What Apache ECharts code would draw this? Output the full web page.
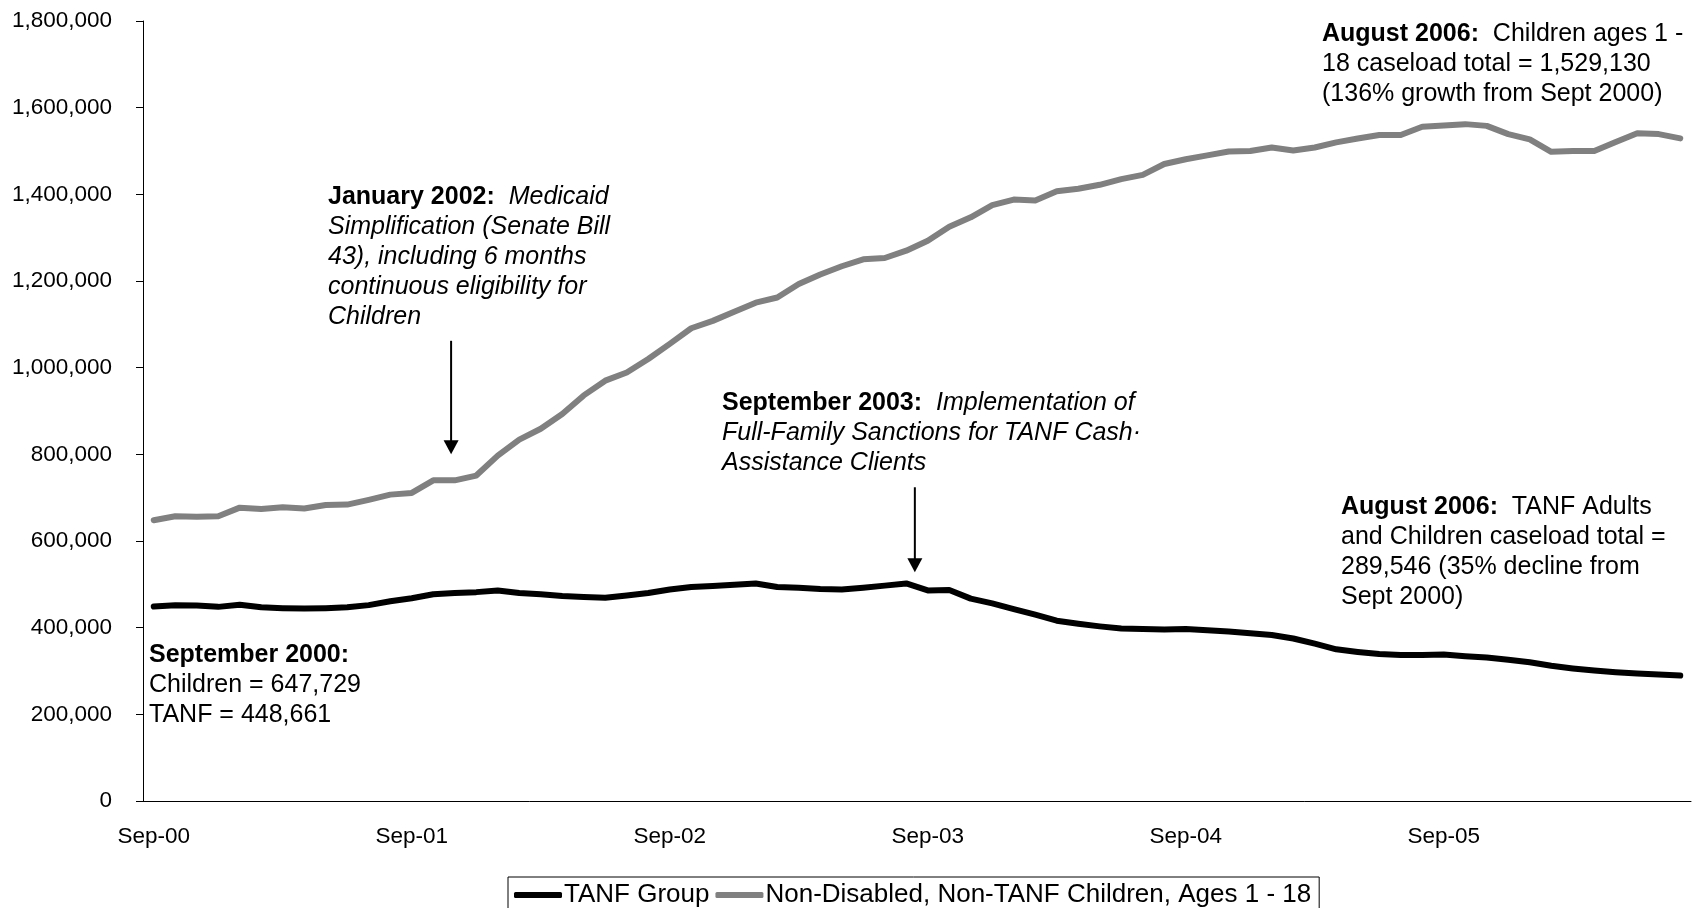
<!DOCTYPE html>
<html>
<head>
<meta charset="utf-8">
<script src="https://cdn.jsdelivr.net/npm/echarts@6/dist/echarts.min.js"></script>
<style>
html,body{margin:0;padding:0;background:#fff;}
#chart{width:1696px;height:908px;}
</style>
</head>
<body>
<div id="chart"></div>
<script>
const FONT = '"Liberation Sans", Arial, Helvetica, sans-serif';

const categories = [
  "Sep-00","Oct-00","Nov-00","Dec-00","Jan-01","Feb-01","Mar-01","Apr-01","May-01","Jun-01","Jul-01","Aug-01",
  "Sep-01","Oct-01","Nov-01","Dec-01","Jan-02","Feb-02","Mar-02","Apr-02","May-02","Jun-02","Jul-02","Aug-02",
  "Sep-02","Oct-02","Nov-02","Dec-02","Jan-03","Feb-03","Mar-03","Apr-03","May-03","Jun-03","Jul-03","Aug-03",
  "Sep-03","Oct-03","Nov-03","Dec-03","Jan-04","Feb-04","Mar-04","Apr-04","May-04","Jun-04","Jul-04","Aug-04",
  "Sep-04","Oct-04","Nov-04","Dec-04","Jan-05","Feb-05","Mar-05","Apr-05","May-05","Jun-05","Jul-05","Aug-05",
  "Sep-05","Oct-05","Nov-05","Dec-05","Jan-06","Feb-06","Mar-06","Apr-06","May-06","Jun-06","Jul-06","Aug-06"
];

const tanfGroup = [
  448661,452000,451000,448000,453000,447000,445000,444000,445000,447000,452000,461000,
  468000,477000,480000,482000,486000,480000,477000,473000,471000,469000,474000,480000,
  488000,494000,496000,499000,502000,494000,492000,489000,488000,492000,497000,502000,
  486000,487000,467000,456000,443000,430000,416000,409000,403000,398000,397000,396000,
  397000,394000,391000,387000,383000,375000,363000,350000,344000,339000,337000,337000,
  338000,334000,331000,326000,320000,312000,306000,301000,297000,294000,292000,289546
];

const nonTanfChildren = [
  647729,657000,656000,657000,677000,674000,678000,675000,683000,684000,695000,707000,
  711000,740000,740000,751000,797000,834000,859000,893000,936000,970000,989000,1020000,
  1055000,1091000,1108000,1129000,1150000,1162000,1193000,1215000,1234000,1250000,1253000,1270000,
  1293000,1325000,1347000,1375000,1388000,1386000,1407000,1413000,1422000,1435000,1445000,1470000,
  1481000,1490000,1499000,1500000,1508000,1501000,1508000,1520000,1529000,1537000,1537000,1556000,
  1559000,1562000,1558000,1539000,1527000,1498000,1500000,1500000,1521000,1541000,1539000,1529130
];

const seriesNames = ["TANF Group", "Non-Disabled, Non-TANF Children, Ages 1 - 18"];
const yTicks = { min: 0, max: 1800000, step: 200000 };

const annotations = [
  { lines: ["{b|January 2002:}  {i|Medicaid}", "{i|Simplification (Senate Bill}", "{i|43), including 6 months}", "{i|continuous eligibility for}", "{i|Children}"], x: 328, y: 182 },
  { lines: ["{b|September 2003:}  {i|Implementation of}", "{i|Full-Family Sanctions for TANF Cash·}", "{i|Assistance Clients}"], x: 722, y: 388 },
  { lines: ["{b|August 2006:}  {n|Children ages 1 -}", "{n|18 caseload total = 1,529,130}", "{n|(136% growth from Sept 2000)}"], x: 1322, y: 19 },
  { lines: ["{b|August 2006:}  {n|TANF Adults}", "{n|and Children caseload total =}", "{n|289,546 (35% decline from}", "{n|Sept 2000)}"], x: 1341, y: 492 },
  { lines: ["{b|September 2000:}", "{n|Children = 647,729}", "{n|TANF = 448,661}"], x: 149, y: 640 }
];
const arrows = [
  [13.83, 1062000, 800000],
  [35.4, 724000, 528000]
];

const chart = echarts.init(document.getElementById('chart'), null, { renderer: 'canvas' });

const ANN_SIZE = 25;
const richStyles = {
  b: { fontFamily: FONT, fontSize: ANN_SIZE, fontWeight: 'bold', fill: '#000', lineHeight: 30 },
  i: { fontFamily: FONT, fontSize: ANN_SIZE, fontStyle: 'italic', fill: '#000', lineHeight: 30 },
  n: { fontFamily: FONT, fontSize: ANN_SIZE, fill: '#000', lineHeight: 30 }
};

const option = {
  animation: false,
  backgroundColor: '#ffffff',
  textStyle: { fontFamily: FONT },
  grid: { left: 143, right: 5, top: 21, bottom: 107, containLabel: false },
  legend: {
    data: seriesNames,
    left: 508,
    top: 877,
    orient: 'horizontal',
    icon: 'roundRect',
    itemWidth: 48,
    itemHeight: 6,
    itemGap: 6,
    padding: [5, 8, 5, 6],
    borderColor: '#000',
    borderWidth: 1,
    borderRadius: 0,
    textStyle: { fontFamily: FONT, fontSize: 26, color: '#000', padding: [0, 0, 0, -3] }
  },
  xAxis: {
    type: 'category',
    data: categories,
    boundaryGap: true,
    axisLine: { show: true, lineStyle: { color: '#000', width: 1 } },
    axisTick: { show: false },
    splitLine: { show: false },
    axisLabel: { interval: 11, color: '#000', fontSize: 22.5, margin: 24, fontFamily: FONT }
  },
  yAxis: {
    type: 'value',
    min: yTicks.min,
    max: yTicks.max,
    interval: yTicks.step,
    axisLine: { show: true, lineStyle: { color: '#000', width: 1 } },
    axisTick: { show: true, length: 7, lineStyle: { color: '#000' } },
    splitLine: { show: false },
    axisLabel: {
      color: '#000', fontSize: 22.5, margin: 31, fontFamily: FONT,
      formatter: v => v.toLocaleString('en-US')
    }
  },
  series: [
    {
      name: seriesNames[0], type: 'line', data: tanfGroup, symbol: 'none', z: 3,
      lineStyle: { color: '#000000', width: 6, cap: 'round', join: 'round' },
      itemStyle: { color: '#000000' }
    },
    {
      name: seriesNames[1], type: 'line', data: nonTanfChildren, symbol: 'none', z: 2,
      lineStyle: { color: '#808080', width: 6, cap: 'round', join: 'round' },
      itemStyle: { color: '#808080' }
    }
  ]
};
chart.setOption(option);

function toPx(idx, val) {
  const i0 = Math.floor(idx), f = idx - i0;
  const a = chart.convertToPixel({ xAxisIndex: 0, yAxisIndex: 0 }, [i0, val]);
  const b = chart.convertToPixel({ xAxisIndex: 0, yAxisIndex: 0 }, [i0 + 1, val]);
  return [a[0] + (b[0] - a[0]) * f, a[1]];
}

const graphics = [];
annotations.forEach(a => {
  graphics.push({
    type: 'text', left: a.x, top: a.y, z: 10,
    style: { text: a.lines.join('\n'), rich: richStyles, fill: '#000', font: ANN_SIZE + 'px ' + FONT, lineHeight: 30 }
  });
});
arrows.forEach(ar => {
  const top = toPx(ar[0], ar[1]);
  const tip = toPx(ar[0], ar[2]);
  const headH = 14, headW = 7.5;
  graphics.push({
    type: 'line', z: 10,
    shape: { x1: top[0], y1: top[1], x2: tip[0], y2: tip[1] - headH + 1 },
    style: { stroke: '#000', lineWidth: 2 }
  });
  graphics.push({
    type: 'polygon', z: 10,
    shape: { points: [[tip[0] - headW, tip[1] - headH], [tip[0] + headW, tip[1] - headH], [tip[0], tip[1]]] },
    style: { fill: '#000' }
  });
});
chart.setOption({ graphic: graphics });
</script>
</body>
</html>
